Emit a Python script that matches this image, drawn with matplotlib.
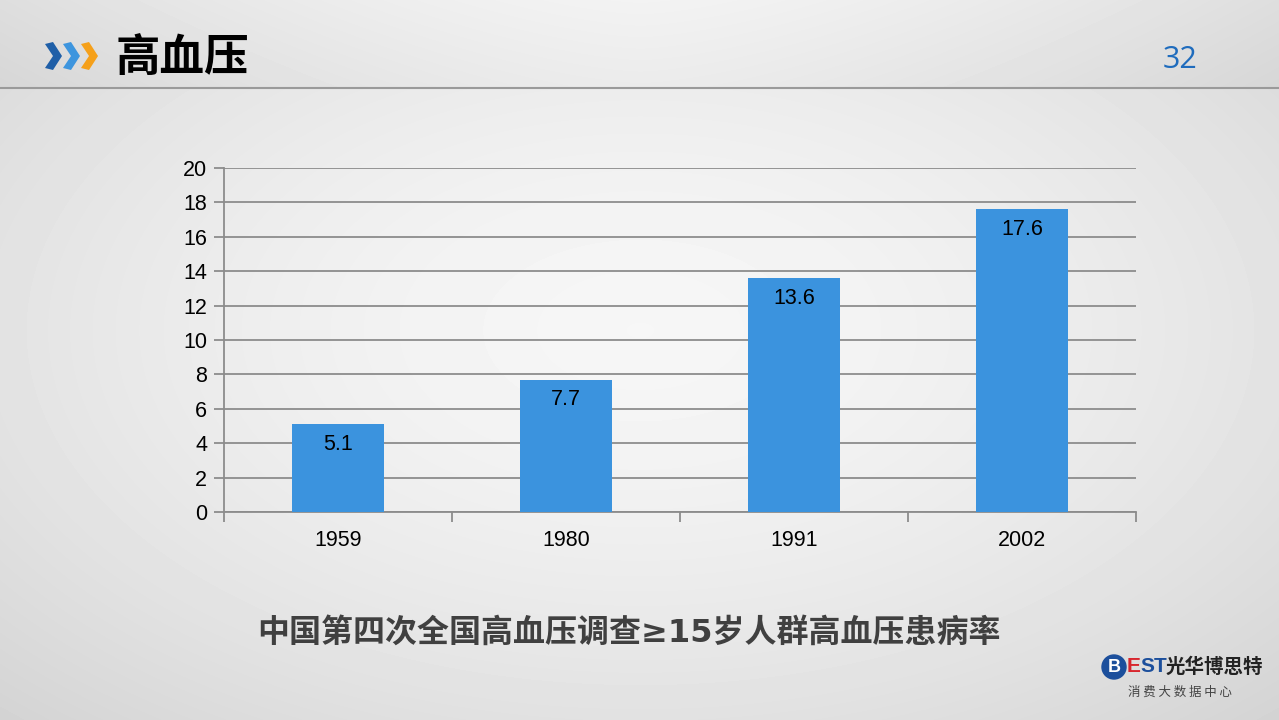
import numpy as np
import matplotlib.pyplot as plt
from matplotlib.patches import Polygon, Circle

plt.rcParams['font.family'] = ['Liberation Sans', 'Noto Sans CJK SC', 'DejaVu Sans']

# data
years = ['1959', '1980', '1991', '2002']
rates = [5.1, 7.7, 13.6, 17.6]
yticks = [0, 2, 4, 6, 8, 10, 12, 14, 16, 18, 20]

title = '高血压'
subtitle = '中国第四次全国高血压调查≥15岁人群高血压患病率'
page_no = '32'

fig = plt.figure(figsize=(12.79, 7.2), dpi=100)

# background: radial grey gradient
bg = fig.add_axes([0, 0, 1, 1])
yy, xx = np.mgrid[0:720, 0:1279]
r = np.sqrt(((xx - 640) / 900.0) ** 2 + ((yy - 330) / 520.0) ** 2)
shade = 0.965 - 0.13 * np.clip(r, 0, 1.2) ** 1.6
bg.imshow(shade, cmap='gray', vmin=0, vmax=1, extent=[0, 1279, 720, 0], aspect='auto')

# header band + line
hy, hx = np.mgrid[0:88, 0:1279]
hshade = 0.95 - 0.08 * (np.abs(hx - 640) / 640.0) ** 1.5 - 0.03 * (hy / 88.0)
bg.imshow(hshade, cmap='gray', vmin=0, vmax=1, extent=[0, 1279, 88, 0], aspect='auto')
bg.plot([0, 1279], [88, 88], color='#9a9a9a', lw=1.5)
bg.set_xlim(0, 1279)
bg.set_ylim(720, 0)
bg.axis('off')

# chevrons
for x0, c in [(45, '#1f5fa8'), (63, '#3d95de'), (81, '#f5a01a')]:
    pts = [(x0, 44), (x0 + 8, 42), (x0 + 17, 56), (x0 + 8, 70), (x0, 68), (x0 + 8, 56)]
    bg.add_patch(Polygon(pts, closed=True, color=c, lw=0))

bg.text(116, 58, title, fontsize=32, fontweight='bold', color='black',
        va='center', ha='left', family=['Noto Sans CJK SC'])
bg.text(1180, 60, page_no, fontsize=22, color='#1f6cbd', va='center', ha='center',
        family=['Open Sans'])

bg.text(629, 633, subtitle, fontsize=23, fontweight='bold', color='#404040',
        va='center', ha='center', family=['DejaVu Sans', 'Noto Sans CJK SC'])

# logo
bg.add_patch(Circle((1114, 667), 12, color='#1c4f9c'))
bg.text(1114, 667, 'B', fontsize=13, fontweight='bold', color='white', ha='center', va='center')
bg.text(1127, 667, 'E', fontsize=15, fontweight='bold', color='#d8262e', ha='left', va='center')
bg.text(1140, 667, 'ST', fontsize=15, fontweight='bold', color='#1c4f9c', ha='left', va='center')
bg.text(1166, 667, '光华博思特', fontsize=14, fontweight='bold', color='#222222',
        ha='left', va='center', family=['Noto Sans CJK SC'])
bg.text(1180, 692, '消 费 大 数 据 中 心', fontsize=9, color='#444444',
        ha='center', va='center', family=['Noto Sans CJK SC'])

# chart
ax = fig.add_axes([224 / 1279, 1 - 512 / 720, 912 / 1279, 344 / 720])
ax.patch.set_alpha(0)
x = np.arange(len(years))
bars = ax.bar(x, rates, width=0.4, color='#3b93de', zorder=3)
for b, v in zip(bars, rates):
    ax.text(b.get_x() + b.get_width() / 2, v - 0.55, f'{v:.1f}', ha='center', va='top',
            fontsize=15.5, color='black', zorder=4)

ax.set_xlim(-0.5, len(years) - 0.5)
ax.set_ylim(0, 20)
ax.set_yticks(yticks)
ax.yaxis.grid(True, color='#8c8c8c', lw=1.3, zorder=0)
ax.set_xticks(x)
ax.set_xticklabels(years, fontsize=15.5)
ax.tick_params(axis='x', length=0, pad=13)
ax.set_xticks(np.arange(-0.5, len(years)), minor=True)
ax.tick_params(axis='x', which='minor', length=7, color='#8c8c8c', width=1.3)
ax.tick_params(axis='y', labelsize=15.5, length=7, color='#8c8c8c', width=1.3, pad=5)
for s in ['top', 'right']:
    ax.spines[s].set_visible(False)
for s in ['left', 'bottom']:
    ax.spines[s].set_color('#8c8c8c')
    ax.spines[s].set_linewidth(1.3)

fig.savefig('out.png', dpi=100)
